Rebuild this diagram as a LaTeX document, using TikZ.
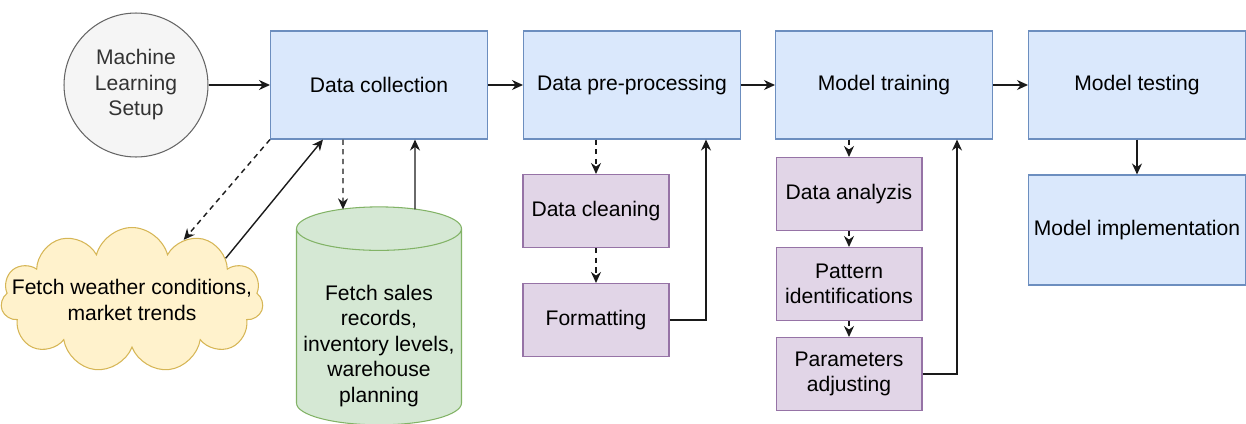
\documentclass[tikz,border=0pt]{standalone}
\usepackage{fontspec}
\setmainfont{Liberation Sans}
\usetikzlibrary{arrows.meta,calc,shapes.geometric,shapes.symbols}
\definecolor{stagefill}{HTML}{DAE8FC}
\definecolor{stageline}{HTML}{6C8EBF}
\definecolor{subfill}{HTML}{E1D5E7}
\definecolor{subline}{HTML}{9673A6}
\definecolor{setupfill}{HTML}{F5F5F5}
\definecolor{setupline}{HTML}{666666}
\definecolor{setuptext}{HTML}{333333}
\definecolor{cloudfill}{HTML}{FFF2CC}
\definecolor{cloudline}{HTML}{D6B656}
\definecolor{dbfill}{HTML}{D5E8D4}
\definecolor{dbline}{HTML}{82B366}
\definecolor{linecol}{HTML}{1A1A1A}
\begin{document}
\begin{tikzpicture}[
  x=0.02cm, y=-0.02cm,
  font=\fontsize{12}{14.5}\selectfont,
  stage/.style={draw=stageline, fill=stagefill, line width=0.6pt, align=center, minimum width=4.34cm, minimum height=2.16cm},
  sub/.style={draw=subline, fill=subfill, line width=0.6pt, align=center, minimum width=2.92cm, minimum height=1.46cm},
  arr/.style={-{Stealth[length=2.2mm,width=2mm]}, line width=0.8pt, draw=linecol},
  dasharr/.style={arr, dash pattern=on 3pt off 2.5pt}
]
\useasboundingbox (0,0) rectangle (1246,423);

\node[circle, draw=setupline, fill=setupfill, text=setuptext, line width=0.6pt, inner sep=0pt, minimum size=2.88cm, align=center] (setup) at (136,85) {Machine\\Learning\\Setup};
\node[stage] (collect) at (379,85) {Data collection};
\node[stage] (prep) at (632,85) {Data pre-processing};
\node[stage] (train) at (884,85) {Model training};
\node[stage] (test) at (1137,85) {Model testing};
\node[stage, minimum height=2.2cm] (impl) at (1137,230) {Model implementation};

\node[cloud, cloud puffs=11, cloud ignores aspect, draw=cloudline, fill=cloudfill, line width=0.6pt, inner sep=0pt, minimum width=5.25cm, minimum height=2.9cm, align=center] (weather) at (132,300) {\makebox[0pt]{Fetch weather conditions,}\\\makebox[0pt]{market trends}};
\node[cylinder, shape border rotate=90, aspect=0.3, draw=dbline, fill=dbfill, line width=0.6pt, inner sep=0pt, minimum width=3.3cm, minimum height=4.36cm] (sales) at (379,327) {\makebox[2.9cm]{\raisebox{-14pt}[36pt][36pt]{\begin{tabular}{@{}c@{}}Fetch sales\\records,\\inventory levels,\\warehouse\\planning\end{tabular}}}};

\node[sub] (cleaning) at (596,211) {Data cleaning};
\node[sub] (format) at (596,320) {Formatting};
\node[sub] (analyz) at (849,194) {Data analyzis};
\node[sub] (pattern) at (849,284) {Pattern\\identifications};
\node[sub] (params) at (849,374) {Parameters\\adjusting};

\draw[arr] (setup) -- (collect);
\draw[arr] (collect) -- (prep);
\draw[arr] (prep) -- (train);
\draw[arr] (train) -- (test);
\draw[arr] (test) -- (impl);

\draw[dasharr] (collect.south west) -- (weather);
\draw[arr] (weather.24) -- ($(collect.south west)+(53,0)$);
\draw[dasharr] ($(collect.south west)+(73,0)$) -- ($(sales.north)+(-36,3)$);
\draw[arr] ($(sales.north)+(36,3)$) -- ($(collect.south west)+(145,0)$);

\draw[dasharr] (cleaning.north |- prep.south) -- (cleaning.north);
\draw[dasharr] (cleaning) -- (format);
\draw[arr] (format.east) -| ($(prep.south east)+(-35,0)$);

\draw[dasharr] (analyz.north |- train.south) -- (analyz.north);
\draw[dasharr] (analyz) -- (pattern);
\draw[dasharr] (pattern) -- (params);
\draw[arr] (params.east) -| ($(train.south east)+(-36,0)$);
\end{tikzpicture}
\end{document}
